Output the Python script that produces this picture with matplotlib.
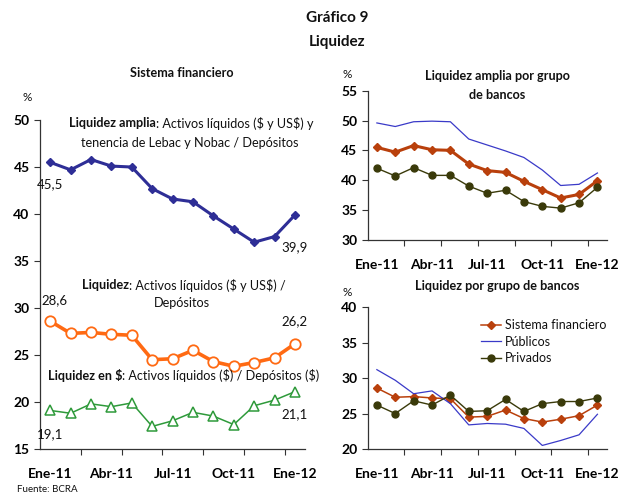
import matplotlib
matplotlib.use("Agg")
import matplotlib.pyplot as plt
import numpy as np

MONTHS = ["Ene-11", "Feb-11", "Mar-11", "Abr-11", "May-11", "Jun-11", "Jul-11",
          "Ago-11", "Sep-11", "Oct-11", "Nov-11", "Dic-11", "Ene-12"]
SHOWN = ["Ene-11", "Abr-11", "Jul-11", "Oct-11", "Ene-12"]

# Sistema financiero
amplia_sf = [45.5, 44.7, 45.8, 45.1, 45.0, 42.7, 41.6, 41.3, 39.8, 38.4, 37.0, 37.6, 39.9]
liquidez_sf = [28.6, 27.3, 27.4, 27.2, 27.1, 24.5, 24.6, 25.5, 24.3, 23.8, 24.2, 24.7, 26.2]
pesos_sf = [19.1, 18.8, 19.8, 19.5, 19.9, 17.4, 18.0, 18.9, 18.5, 17.6, 19.6, 20.2, 21.1]

# por grupo de bancos
amplia_pub = [49.6, 49.0, 49.8, 49.9, 49.8, 46.9, 45.9, 44.9, 43.8, 41.7, 39.1, 39.3, 41.2]
amplia_priv = [42.0, 40.7, 42.1, 40.8, 40.8, 39.0, 37.8, 38.3, 36.4, 35.6, 35.3, 36.2, 38.8]
liq_pub = [31.2, 29.7, 27.8, 28.2, 26.4, 23.4, 23.6, 23.5, 22.9, 20.5, 21.2, 22.0, 24.9]
liq_priv = [26.2, 25.0, 26.8, 26.2, 27.6, 25.3, 25.4, 27.0, 25.3, 26.4, 26.7, 26.7, 27.2]

BLUE, ORANGE, GREEN = "#2E2E96", "#FF6A13", "#2E9A3A"
SF, PUB, PRIV = "#B9400C", "#3A3AC8", "#3A3A0A"
INK = "#111111"

plt.rcParams.update({"font.family": ["Lato", "DejaVu Sans"], "text.color": INK,
                     "text.parse_math": False})

fig = plt.figure(figsize=(6.19, 4.96), dpi=100)
x = np.arange(len(MONTHS))
FS = 9.1


def style_axis(ax, ylo, yhi):
    ax.set_xlim(-0.5, len(MONTHS) - 0.5)
    ax.set_ylim(ylo, yhi)
    ax.set_yticks(np.arange(ylo, yhi + 1, 5))
    for s in ("top", "right"):
        ax.spines[s].set_visible(False)
    for s in ("left", "bottom"):
        ax.spines[s].set_color("#333333")
        ax.spines[s].set_linewidth(0.9)
    ax.set_xticks(np.arange(1.5, len(MONTHS) - 1, 2))
    ax.set_xticklabels([])
    ax.set_xticks([MONTHS.index(m) for m in SHOWN], minor=True)
    ax.set_xticklabels(SHOWN, minor=True)
    ax.tick_params(axis="x", which="major", direction="out", length=4, color="#333333")
    ax.tick_params(axis="x", which="minor", length=0, pad=14, labelsize=10)
    ax.tick_params(axis="y", direction="out", length=4, color="#333333", labelsize=10)
    for lab in ax.get_xticklabels(minor=True) + ax.get_yticklabels():
        lab.set_fontweight("bold")


def label(px, py, s, **kw):
    kw.setdefault("ha", "center")
    kw.setdefault("fontsize", FS)
    fig.text(px / 619, 1 - py / 496, s, va="center", **kw)


# --- left: sistema financiero -----------------------------------------------
ax = fig.add_axes([0.0646, 0.0948, 0.4284, 0.6632])
style_axis(ax, 15, 50)
ax.plot(x, amplia_sf, color=BLUE, lw=2.2, marker="D", ms=4)
ax.plot(x, liquidez_sf, color=ORANGE, lw=2.6, marker="o", ms=7.5, mfc="white", mew=1.3)
ax.plot(x, pesos_sf, color=GREEN, lw=1.1, marker="^", ms=6.5, mfc="white", mew=1.1)
for xi, yv, dx, dy in [(0, amplia_sf[0], 0, -16), (12, amplia_sf[-1], 0, -23),
                       (0, liquidez_sf[0], 3, 15), (12, liquidez_sf[-1], 0, 16),
                       (0, pesos_sf[0], 0, -17), (12, pesos_sf[-1], 0, -16)]:
    ax.annotate(f"{yv:.1f}".replace(".", ","), (xi, yv), xytext=(dx, dy),
                textcoords="offset points", ha="center", va="center", fontsize=9.5)

label(156, 123, "Liquidez amplia", ha="right", fontweight="bold")
label(156, 123, ": Activos líquidos ($ y US$) y", ha="left")
label(190, 143, "tenencia de Lebac y Nobac / Depósitos")
label(129, 285, "Liquidez", ha="right", fontweight="bold")
label(129, 285, ": Activos líquidos ($ y US$) /", ha="left")
label(182, 303, "Depósitos")
label(122, 376, "Liquidez en $", ha="right", fontweight="bold")
label(122, 376, ": Activos líquidos ($) / Depósitos ($)", ha="left")
label(182, 73, "Sistema financiero", fontweight="bold")
label(27, 98, "%", fontsize=8.5)

# --- right top: liquidez amplia por grupo -----------------------------------
ax2 = fig.add_axes([0.594, 0.5167, 0.386, 0.3003])
style_axis(ax2, 30, 55)
ax2.plot(x, amplia_pub, color=PUB, lw=0.9)
ax2.plot(x, amplia_sf, color=SF, lw=2.2, marker="D", ms=4.5)
ax2.plot(x, amplia_priv, color=PRIV, lw=1.0, marker="o", ms=5)
label(497, 76, "Liquidez amplia por grupo", fontweight="bold")
label(497, 95, "de bancos", fontweight="bold")
label(347, 75, "%", fontsize=8.5)

# --- right bottom: liquidez por grupo ---------------------------------------
ax3 = fig.add_axes([0.594, 0.0948, 0.386, 0.2856])
style_axis(ax3, 20, 40)
ax3.plot(x, liquidez_sf, color=SF, lw=1.1, marker="D", ms=4.5, label="Sistema financiero")
ax3.plot(x, liq_pub, color=PUB, lw=0.9, label="Públicos")
ax3.plot(x, liq_priv, color=PRIV, lw=1.0, marker="o", ms=5, label="Privados")
ax3.legend(loc="upper left", bbox_to_anchor=(0.455, 0.95), frameon=False, fontsize=9,
           handlelength=1.6, handletextpad=0.3, labelspacing=0.35, borderaxespad=0)
label(497, 286, "Liquidez por grupo de bancos", fontweight="bold")
label(347, 292, "%", fontsize=8.5)

label(337, 18, "Gráfico 9", fontsize=11, fontweight="bold")
label(337, 42, "Liquidez", fontsize=11, fontweight="bold")
label(17, 490, "Fuente: BCRA", ha="left", fontsize=7)

fig.savefig("out.png", dpi=100)
